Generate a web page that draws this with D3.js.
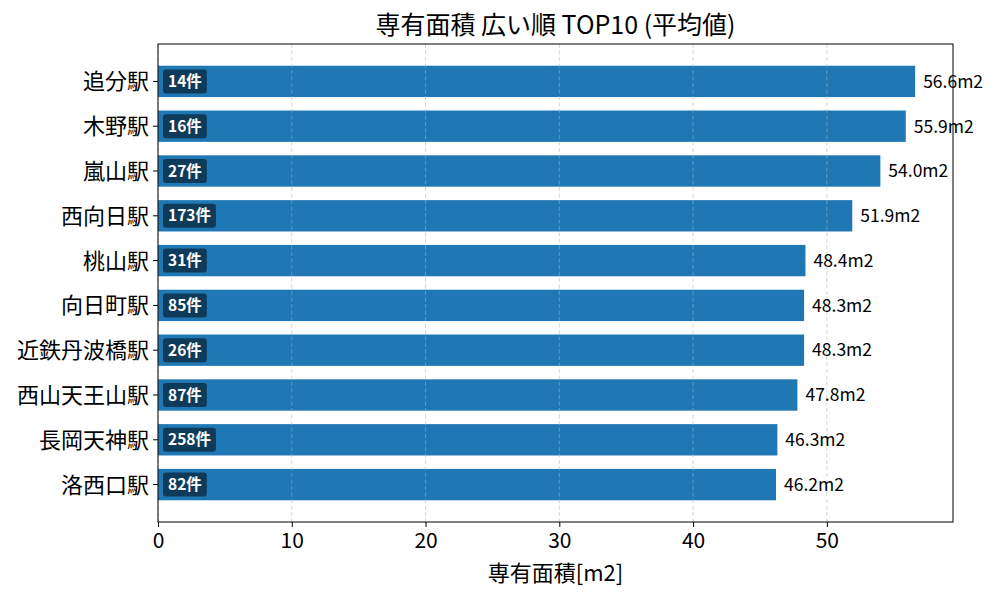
<!DOCTYPE html>
<html>
<head>
<meta charset="utf-8">
<script src="https://cdn.jsdelivr.net/npm/d3@7"></script>
<style>
  body { margin: 0; background: #fff; }
  svg { font-family: "Noto Sans CJK JP", "Noto Sans", sans-serif; }
</style>
</head>
<body>
<svg id="chart" width="1000" height="600"></svg>
<script>
// Chart data
const stations = ['追分駅', '木野駅', '嵐山駅', '西向日駅', '桃山駅', '向日町駅', '近鉄丹波橋駅', '西山天王山駅', '長岡天神駅', '洛西口駅'];
const areas = [56.6, 55.9, 54.0, 51.9, 48.4, 48.3, 48.3, 47.8, 46.3, 46.2];
const counts = [14, 16, 27, 173, 31, 85, 26, 87, 258, 82];
const xTicks = [0, 10, 20, 30, 40, 50];

const margin = { top: 44, right: 47, bottom: 78, left: 158 };
const svg = d3.select('#chart');
const width = 1000 - margin.left - margin.right;
const height = 600 - margin.top - margin.bottom;

const rows = stations.map((name, i) => ({ name, area: areas[i], count: counts[i] }));

const x = d3.scaleLinear()
  .domain([0, d3.max(areas) * 1.05])
  .range([0, width]);

// matplotlib-like y limits: bars at 0..n-1, height 0.7, 5% margins
const n = stations.length;
const lo = -0.35, hi = n - 1 + 0.35;
const pad = (hi - lo) * 0.05;
const y = d3.scaleLinear()
  .domain([lo - pad, hi + pad])
  .range([0, height]);
const barH = y(0.7) - y(0);

const g = svg.append('g')
  .attr('transform', `translate(${margin.left},${margin.top})`);

// Bars
g.selectAll('.bar')
  .data(rows)
  .enter()
  .append('rect')
  .attr('class', 'bar')
  .attr('x', x(0))
  .attr('y', (d, i) => y(i) - barH / 2)
  .attr('width', d => x(d.area) - x(0))
  .attr('height', barH)
  .attr('fill', '#1f77b4');

// Grid lines (drawn over bars, faint)
g.selectAll('.grid')
  .data(xTicks)
  .enter()
  .append('line')
  .attr('x1', d => x(d))
  .attr('x2', d => x(d))
  .attr('y1', 0)
  .attr('y2', height)
  .attr('stroke', '#b0b0b0')
  .attr('stroke-opacity', 0.6)
  .attr('stroke-dasharray', '4,2.5')
  .attr('stroke-width', 0.9);

// Count badges
const badges = g.selectAll('.badge')
  .data(rows)
  .enter()
  .append('g')
  .attr('class', 'badge')
  .attr('transform', (d, i) => `translate(${x(0) + 5},${y(i)})`);

badges.append('text')
  .attr('x', 5)
  .attr('y', 0)
  .attr('dy', '0.36em')
  .attr('font-size', 15.5)
  .attr('font-weight', 'bold')
  .attr('fill', '#fff')
  .text(d => `${d.count}件`);

badges.each(function() {
  const t = d3.select(this).select('text');
  const w = t.node().getComputedTextLength();
  d3.select(this).insert('rect', 'text')
    .attr('x', 0)
    .attr('y', -12)
    .attr('width', w + 10)
    .attr('height', 24)
    .attr('rx', 3)
    .attr('fill', '#000')
    .attr('fill-opacity', 0.5);
});

// Value labels
g.selectAll('.value')
  .data(rows)
  .enter()
  .append('text')
  .attr('class', 'value')
  .attr('x', d => x(d.area) + 8)
  .attr('y', (d, i) => y(i))
  .attr('dy', '0.36em')
  .attr('font-size', 17.5)
  .attr('fill', '#000')
  .text(d => `${d.area.toFixed(1)}m2`);

// Frame
g.append('rect')
  .attr('width', width)
  .attr('height', height)
  .attr('fill', 'none')
  .attr('stroke', '#000')
  .attr('stroke-width', 1);

// X axis
const xAxis = g.append('g')
  .attr('transform', `translate(0,${height})`)
  .call(d3.axisBottom(x).tickValues(xTicks).tickSize(5).tickPadding(6));
xAxis.select('.domain').remove();
xAxis.selectAll('text').attr('font-size', 21).attr('fill', '#000').attr('font-family', '"Noto Sans CJK JP", sans-serif');
xAxis.selectAll('line').attr('stroke', '#000');

// Y axis
const yAxis = g.append('g');
yAxis.selectAll('.ytick')
  .data(rows)
  .enter()
  .append('g')
  .attr('transform', (d, i) => `translate(0,${y(i)})`)
  .each(function(d) {
    const t = d3.select(this);
    t.append('line').attr('x1', -5).attr('x2', 0).attr('stroke', '#000');
    t.append('text')
      .attr('x', -9)
      .attr('dy', '0.36em')
      .attr('text-anchor', 'end')
      .attr('font-size', 22)
      .attr('fill', '#000')
      .text(d.name);
  });

// Title
svg.append('text')
  .attr('x', margin.left + width / 2)
  .attr('y', 34)
  .attr('text-anchor', 'middle')
  .attr('font-size', 25)
  .attr('fill', '#000')
  .text('専有面積 広い順 TOP10 (平均値)');

// X label
svg.append('text')
  .attr('x', margin.left + width / 2)
  .attr('y', 581)
  .attr('text-anchor', 'middle')
  .attr('font-size', 22)
  .attr('fill', '#000')
  .text('専有面積[m2]');
</script>
</body>
</html>
